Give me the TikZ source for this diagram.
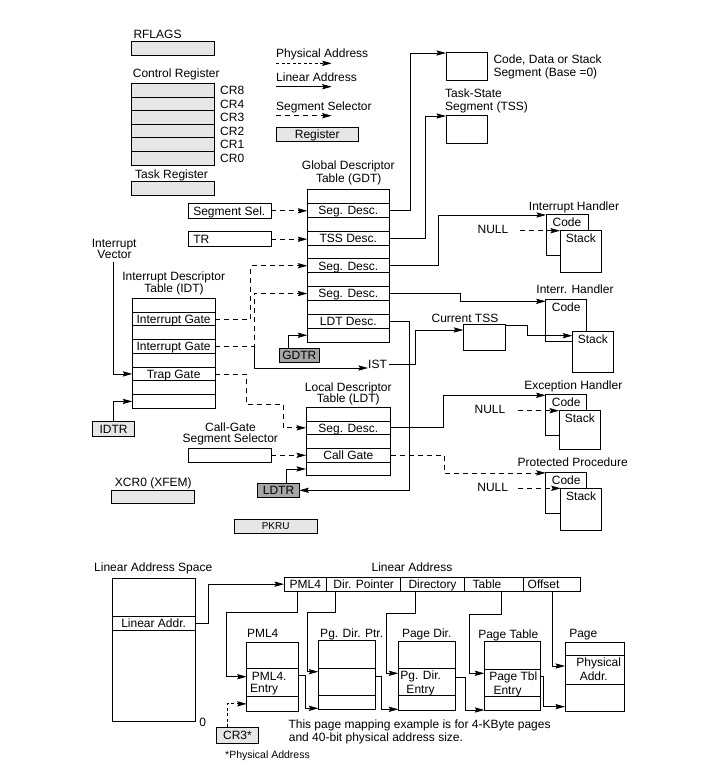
\documentclass[tikz,border=0pt]{standalone}
\usepackage{fontspec}
\setmainfont{Liberation Sans}
\usetikzlibrary{arrows.meta}
\definecolor{regfill}{HTML}{E6E6E6}
\definecolor{darkreg}{HTML}{A6A6A6}
\begin{document}
\begin{tikzpicture}[x=1pt,y=-1pt,
  font=\fontsize{12}{13}\selectfont,
  ln/.style={line width=0.8pt},
  arr/.style={ln,-{Stealth[length=9.5pt,width=5.2pt,inset=1.5pt]}},
  selline/.style={dash pattern=on 5pt off 4pt},
  physline/.style={dash pattern=on 3pt off 2.5pt},
  txt/.style={inner sep=0pt,text height=8.6pt,text depth=0pt},
  cell/.style={draw,line width=0.8pt,inner sep=0pt,outer sep=0pt,text height=8.6pt,text depth=0pt},
  cellnw/.style={cell,anchor=north west},
  regbox/.style={cellnw,fill=regfill},
  ptrbox/.style={cellnw,fill=darkreg},
  selbox/.style={cellnw,inner xsep=5pt,minimum width=82.7pt},
  hdl/.style={draw,line width=0.8pt,inner sep=0pt,outer sep=0pt,anchor=north west,fill=white,text height=12pt,text depth=#1},
]
\useasboundingbox (0,0) rectangle (723,780);

% ---------- system registers ----------
\node[txt,anchor=west] (rfl) at (133.3,34) {RFLAGS};
\node[regbox,minimum width=83pt,minimum height=14pt] (rflags) at (131,41) {};
\node[txt,anchor=west] (ctrl) at (132.7,73.3) {Control Register};
\foreach \i/\s in {0/CR8,1/CR4,2/CR3,3/CR2,4/CR1,5/CR0}{
  \node[cell,fill=regfill,minimum width=83pt,minimum height=13.6pt] (cr\i) at (172.5,{83.3+13.6*\i+6.8}) {};
  \node[txt,anchor=west] (crl\i) at ([xshift=6pt]cr\i.east) {\s};
}
\node[txt,anchor=west] (taskl) at (135,174) {Task Register};
\node[regbox,minimum width=83pt,minimum height=13.3pt] (taskreg) at (131,181.7) {};

% ---------- legend ----------
\node[txt,anchor=west] (leg1) at (276,52.7) {Physical Address};
\coordinate (pa1) at (276,63.3); \coordinate (pa2) at (331.7,63.3);
\draw[arr,physline] (pa1) -- (pa2);
\node[txt,anchor=west] (leg2) at (276,76.7) {Linear Address};
\coordinate (la1s) at (276,86.7); \coordinate (la1e) at (331.7,86.7);
\draw[arr] (la1s) -- (la1e);
\node[txt,anchor=west] (leg3) at (276,105.7) {Segment Selector};
\coordinate (ss1) at (276,115.7); \coordinate (ss2) at (331.7,115.7);
\draw[arr,selline] (ss1) -- (ss2);
\node[regbox,minimum width=82.5pt,minimum height=14.5pt] (legreg) at (276,127) {Register};

% ---------- segments ----------
\node[cellnw,minimum width=41.5pt,minimum height=28pt] (cds) at (446,52) {};
\node[txt,anchor=west] (cdsl1) at (493.3,59.3) {Code, Data or Stack};
\node[txt,anchor=west] (cdsl2) at (493.3,72.3) {Segment (Base =0)};
\node[txt,anchor=west] (tssl1) at (445,93.3) {Task-State};
\node[txt,anchor=west] (tssl2) at (445,105.7) {Segment (TSS)};
\node[cellnw,minimum width=41.5pt,minimum height=28pt] (tss) at (446,115) {};

% ---------- GDT ----------
\node[txt] (gdtl1) at (348.3,165) {Global Descriptor};
\node[txt] (gdtl2) at (348.7,178.3) {Table (GDT)};
\foreach \i/\s in {0/{},1/Seg. Desc.,2/{},3/TSS Desc.,4/{},5/Seg. Desc.,6/{},7/Seg. Desc.,8/{},9/LDT Desc.,10/{}}
  \node[cell,minimum width=82pt,minimum height=13.9pt] (gdt\i) at (348.3,{189.3+13.9*\i+6.95}) {\s};

\node[selbox,minimum height=15pt] (segsel) at (188.3,203.3) {\makebox[72.7pt][l]{Segment Sel.}};
\node[selbox,minimum height=15pt] (tr) at (188.3,231.7) {\makebox[72.7pt][l]{TR}};
\node[ptrbox,minimum width=40pt,minimum height=14.4pt] (gdtr) at (279.3,348.3) {GDTR};

% ---------- IDT ----------
\node[txt] (ivec1) at (114.2,242.7) {Interrupt};
\node[txt] (ivec2) at (114.5,254) {Vector};
\node[txt] (idtl1) at (173.7,275.7) {Interrupt Descriptor};
\node[txt] (idtl2) at (174,288.3) {Table (IDT)};
\foreach \i/\s in {0/{},1/Interrupt Gate,2/{},3/Interrupt Gate,4/{},5/Trap Gate,6/{},7/{}}
  \node[cell,minimum width=82.7pt,minimum height=13.75pt] (idt\i) at (173.65,{298.3+13.75*\i+6.875}) {\s};
\node[regbox,minimum width=41.6pt,minimum height=15pt] (idtr) at (92.7,421.7) {IDTR};

% ---------- LDT ----------
\node[txt] (ldtl1) at (348.3,386.7) {Local Descriptor};
\node[txt] (ldtl2) at (348.3,398.3) {Table (LDT)};
\foreach \i/\s in {0/{},1/Seg. Desc.,2/{},3/Call Gate,4/{}}
  \node[cell,minimum width=84.7pt,minimum height=13.7pt] (ldt\i) at (348.35,{407.3+13.7*\i+6.85}) {\s};
\node[txt] (cgl1) at (230.5,426.7) {Call-Gate};
\node[txt] (cgl2) at (230.3,438.3) {Segment Selector};
\node[selbox,minimum height=14pt] (callsel) at (188.3,448.3) {};
\node[ptrbox,minimum width=41.6pt,minimum height=14pt] (ldtr) at (257.7,483.3) {LDTR};

\node[txt] (xcrl) at (153.3,482.3) {XCR0 (XFEM)};
\node[regbox,minimum width=82.6pt,minimum height=13.3pt] (xcr0) at (111.7,490) {};
\node[regbox,minimum width=83.3pt,minimum height=14pt,font=\fontsize{10}{12}\selectfont,text height=7.2pt] (pkru) at (234,519.3) {PKRU};

% ---------- handlers ----------
\node[txt] (h1l) at (574,205.7) {Interrupt Handler};
\node[hdl=29pt,minimum width=42pt] (code1) at (546,214) {Code};
\node[hdl=29.6pt,minimum width=41.7pt] (stack1) at (560,230.7) {Stack};
\node[txt] (null1) at (493,229) {NULL};

\node[txt] (h2l) at (575,288.7) {Interr. Handler};
\node[hdl=30.4pt,minimum width=41pt] (code2) at (545.7,299.3) {Code};
\node[hdl=28.6pt,minimum width=41pt] (stack2) at (572.3,331.7) {Stack};

\node[txt] (ctssl) at (465,318.3) {Current TSS};
\node[cellnw,minimum width=42.4pt,minimum height=26.4pt] (ctss) at (463.3,324.3) {};
\node[txt] (ist) at (377.5,364) {IST};

\node[txt] (h3l) at (573.3,385) {Exception Handler};
\node[hdl=28.7pt,minimum width=41pt] (code3) at (545.7,394.3) {Code};
\node[hdl=26.6pt,minimum width=41.7pt] (stack3) at (559,410.7) {Stack};
\node[txt] (null3) at (490,409.3) {NULL};

\node[txt] (h4l) at (572.7,462.3) {Protected Procedure};
\node[hdl=29pt,minimum width=41pt] (code4) at (545.7,472.3) {Code};
\node[hdl=29.7pt,minimum width=41pt] (stack4) at (560.7,488.3) {Stack};
\node[txt] (null4) at (492.7,487.3) {NULL};

% ---------- connectors: descriptors ----------
\draw[arr,selline] (segsel.east) -- (segsel.east -| gdt1.west);
\draw[arr,selline] (tr.east) -- (tr.east -| gdt3.west);
\draw[arr] (gdt1.east) -| ([xshift=-35.3pt,yshift=-1pt]cds.north west) -- ([yshift=-1pt]cds.north west);
\draw[arr] (gdt3.east) -| ([xshift=-21pt,yshift=-1pt]tss.north west) -- ([yshift=-1pt]tss.north west);
\draw[arr] (gdt5.east) -| ([xshift=-108pt,yshift=-1pt]code1.north west) -- ([yshift=-1pt]code1.north west);
\draw[arr] (gdt7.east) -- ++(71.4,0) |- ([yshift=-2pt]code2.north west);
\draw[arr] (gdt9.east) -- ++(20,0) |- (ldtr.east);
\draw[arr] ([xshift=-11pt]gdtr.north) |- (gdt10.west);
\draw[arr] ([xshift=8.2pt]ldtr.north) |- (ldt4.west);
\draw[arr] (ldt1.east) -- ++(52.6,0) |- ([yshift=-1pt]code3.north west);
\draw[arr,selline] (ldt3.east) -- ++(53.6,0) |- ([yshift=-0.6pt]code4.north west);
\draw[arr,selline] (callsel.east) -- (callsel.east -| ldt3.west);

\draw[arr,selline] ([xshift=11.5pt]null1.east |- stack1.north west) -- (stack1.north west);
\draw[arr,selline] ([xshift=12pt]null3.east |- stack3.north west) -- (stack3.north west);
\draw[arr,selline] ([xshift=10pt]null4.east |- stack4.north west) -- (stack4.north west);

% ---------- connectors: interrupts ----------
\draw[arr] ([xshift=-1.3pt,yshift=-3.4pt]ivec2.south) |- (idt5.west);
\draw[arr] (idtr.north) |- (idt7.west);
\draw[arr,selline] (idt1.east) -- ++(35.7,0) |- (gdt5.west);
\draw[arr,selline] (idt3.east) -- ++(39,0) |- (gdt7.west);
\draw[arr] ([xshift=39pt]idt3.east) |- ([yshift=-4pt]ist.west);
\draw[arr] ([xshift=2pt]ist.east) -- ++(26,0) |- ([yshift=-5.7pt]ctss.north west);
\draw[arr] ([yshift=-1.4pt]ctss.north east) -- ++(21.6,0) |- ([yshift=-4pt]stack2.north west);
\draw[arr,selline] (idt5.east) -- ++(31,0) |- (283.3,404.3) |- (ldt1.west);

% ---------- paging ----------
\node[txt,anchor=west] (lasl) at (94,566.7) {Linear Address Space};
\node[cellnw,minimum width=82.7pt,minimum height=143.4pt] (las) at (112.3,578.3) {};
\node[cellnw,minimum width=82.7pt,minimum height=13.3pt] (lasrow) at (112.3,616.7) {Linear Addr.};
\node[txt] (zero) at (202.7,721.7) {0};

\node[txt] (lal) at (412,567.3) {Linear Address};
\node[cellnw,minimum width=42.7pt,minimum height=13.7pt] (la1) at (284,577.3) {PML4};
\node[cellnw,minimum width=74pt,minimum height=13.7pt] (la2) at (326.7,577.3) {Dir. Pointer};
\node[cellnw,minimum width=63.6pt,minimum height=13.7pt] (la3) at (400.7,577.3) {Directory};
\node[cellnw,minimum width=59pt,minimum height=13.7pt,inner xsep=8.4pt] (la4) at (464.3,577.3) {\makebox[42.2pt][l]{Table}};
\node[cellnw,minimum width=57.4pt,minimum height=13.7pt,inner xsep=4.4pt] (la5) at (523.3,577.3) {\makebox[48.6pt][l]{Offset}};

\node[txt] (pml4l) at (262.7,632.7) {PML4};
\node[cellnw,minimum width=51.6pt,minimum height=26pt] (pml0) at (246.7,642.3) {};
\node[cellnw,minimum width=51.6pt,minimum height=28.4pt] (pml1) at (246.7,668.3) {};
\node[cellnw,minimum width=51.6pt,minimum height=14.3pt] (pml2) at (246.7,696.7) {};
\node[txt] (pmle1) at (269.2,676) {PML4.};
\node[txt] (pmle2) at (264.2,688.3) {Entry};

\node[txt] (pdpl) at (351.7,632.7) {Pg. Dir. Ptr.};
\node[cellnw,minimum width=57.4pt,minimum height=27.6pt] (pdp0) at (318.3,640.7) {};
\node[cellnw,minimum width=57.4pt,minimum height=27.4pt] (pdp1) at (318.3,668.3) {};
\node[cellnw,minimum width=57.4pt,minimum height=13.6pt] (pdp2) at (318.3,695.7) {};

\node[txt] (pdl) at (426.7,632.7) {Page Dir.};
\node[cellnw,minimum width=56.7pt,minimum height=27.3pt] (pd0) at (398.3,641) {};
\node[cellnw,minimum width=56.7pt,minimum height=27.4pt] (pd1) at (398.3,668.3) {};
\node[cellnw,minimum width=56.7pt,minimum height=14.3pt] (pd2) at (398.3,695.7) {};
\node[txt] (pde1) at (420.7,675) {Pg. Dir.};
\node[txt] (pde2) at (420.5,689) {Entry};

\node[txt] (ptl) at (508.3,634) {Page Table};
\node[cellnw,minimum width=56.4pt,minimum height=27.6pt] (pt0) at (484.3,641.7) {};
\node[cellnw,minimum width=56.4pt,minimum height=27.4pt] (pt1) at (484.3,669.3) {};
\node[cellnw,minimum width=56.4pt,minimum height=14pt] (pt2) at (484.3,696.7) {};
\node[txt] (pte1) at (513.3,675.7) {Page Tbl};
\node[txt] (pte2) at (507.5,690) {Entry};

\node[txt] (pgl) at (583.3,632.7) {Page};
\node[cellnw,minimum width=59.3pt,minimum height=13pt] (pg0) at (565,642.7) {};
\node[cellnw,minimum width=59.3pt,minimum height=28.6pt] (pg1) at (565,655.7) {};
\node[cellnw,minimum width=59.3pt,minimum height=26.7pt] (pg2) at (565,684.3) {};
\node[txt] (pge1) at (598.7,661.7) {Physical};
\node[txt] (pge2) at (593.8,676) {Addr.};

\node[regbox,minimum width=41.6pt,minimum height=16pt] (cr3) at (216.7,727.3) {CR3*};
\node[txt,anchor=west,font=\fontsize{10.5}{12}\selectfont,text height=7.5pt] (physnote) at (225,755) {*Physical Address};
\node[txt,anchor=west] (cap1) at (288.3,724) {This page mapping example is for 4-KByte pages};
\node[txt,anchor=west] (cap2) at (288.7,737.3) {and 40-bit physical address size.};

% ---------- connectors: paging ----------
\draw[arr] (lasrow.east) -- ++(13.3,0) |- (la1.west);
\draw[arr] ([xshift=-8pt]la1.south) |- (226.7,612.7) |- ([yshift=5.8pt]pml1.west);
\draw[arr,physline] ([xshift=-10.2pt]cr3.north) |- (pml2.west);
\draw[arr] ([xshift=-28pt]la2.south) |- (307.3,612.3) |- ([yshift=10.3pt]pdp1.west);
\draw[arr] ([yshift=7.5pt]pml1.east) -- ++(6.7,0) |- ([yshift=-5.8pt]pdp2.west);
\draw[arr] ([xshift=-17.5pt]la3.south) |- (386,613.3) |- ([yshift=8.7pt]pd1.west);
\draw[arr] ([yshift=6pt]pdp1.east) -- ++(6,0) |- ([yshift=-6.45pt]pd2.west);
\draw[arr] ([xshift=7.2pt]la4.south) |- (469.3,614) |- ([yshift=9.7pt]pt1.west);
\draw[arr] ([yshift=4.3pt]pd1.east) -- ++(10,0) |- ([yshift=-6.3pt]pt2.west);
\draw[arr] (la5.south) |- ([yshift=4pt]pg1.west);
\draw[arr] ([yshift=7pt]pt1.east) -- ++(2.6,0) |- ([yshift=-9pt]pg2.west);
\end{tikzpicture}
\end{document}
